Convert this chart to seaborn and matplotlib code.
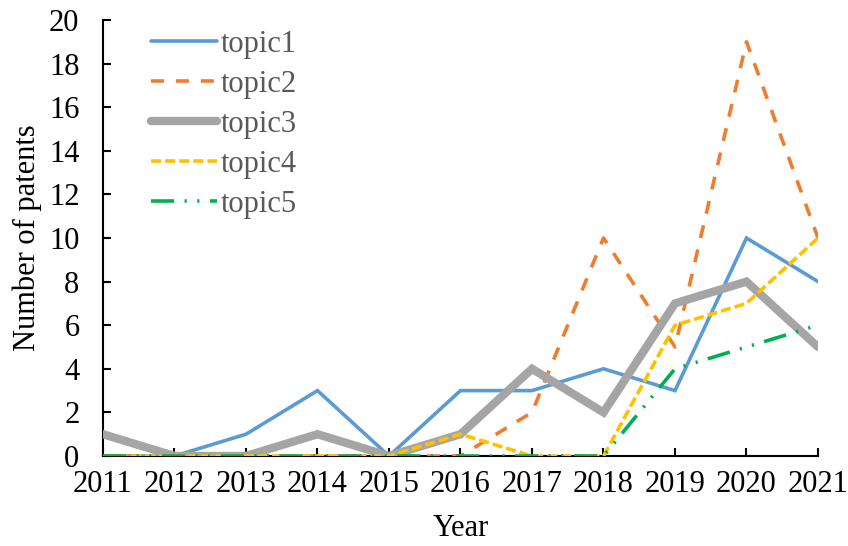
import matplotlib
matplotlib.use("Agg")
import matplotlib.pyplot as plt
import seaborn as sns
import pandas as pd

years = [2011, 2012, 2013, 2014, 2015, 2016, 2017, 2018, 2019, 2020, 2021]
topic1 = [0, 0, 1, 3, 0, 3, 3, 4, 3, 10, 8]
topic2 = [0, 0, 0, 0, 0, 0, 2, 10, 5, 19, 10]
topic3 = [1, 0, 0, 1, 0, 1, 4, 2, 7, 8, 5]
topic4 = [0, 0, 0, 0, 0, 1, 0, 0, 6, 7, 10]
topic5 = [0, 0, 0, 0, 0, 0, 0, 0, 4, 5, 6]
series_names = ["topic1", "topic2", "topic3", "topic4", "topic5"]
y_ticks = [0, 2, 4, 6, 8, 10, 12, 14, 16, 18, 20]

sns.set_theme(style="white")
plt.rcParams["font.family"] = ["Liberation Serif", "DejaVu Serif"]

fig = plt.figure(figsize=(8.48, 5.46), dpi=100)
ax = fig.add_axes([103 / 848, 1 - 456 / 546, (818 - 103) / 848, (456 - 20) / 546])

styles = [
    dict(color="#5B9BD5", lw=2.6, dashes=None),
    dict(color="#ED7D31", lw=2.6, dashes=(3.6, 3.3)),
    dict(color="#A5A5A5", lw=6.0, dashes=None),
    dict(color="#FFC000", lw=2.6, dashes=(2.8, 1.1)),
    dict(color="#00B050", lw=2.6, dashes=(6.4, 2.9, 0.6, 2.9, 0.6, 2.9)),
]
data = [topic1, topic2, topic3, topic4, topic5]

for i, (name, vals, st) in enumerate(zip(series_names, data, styles)):
    df = pd.DataFrame({"Year": years, "value": vals})
    sns.lineplot(data=df, x="Year", y="value", ax=ax, color=st["color"],
                 linewidth=st["lw"], label=name, zorder=3 + i)
    line = ax.get_lines()[-1]
    if st["dashes"] is not None:
        line.set_dashes(st["dashes"])
    line.set_solid_capstyle("round")
    line.set_solid_joinstyle("miter")

ax.set_xlim(2011, 2021)
ax.set_ylim(0, 20)
ax.set_xticks(years)
ax.set_xticklabels([str(y) for y in years])
ax.set_yticks(y_ticks)
ax.set_yticklabels([str(v) for v in y_ticks])

for s in ["top", "right"]:
    ax.spines[s].set_visible(False)
for s in ["left", "bottom"]:
    ax.spines[s].set_color("black")
    ax.spines[s].set_linewidth(1.5)

ax.tick_params(axis="both", direction="in", length=6, width=1.5, colors="black",
               labelsize=22, labelcolor="black")
ax.tick_params(axis="x", pad=10, bottom=True, left=False)
ax.tick_params(axis="y", pad=17, left=True, bottom=False)
ax.grid(False)

ax.set_xlabel("Year", fontsize=22, color="black", labelpad=11)
ax.set_ylabel("Number of patents", fontsize=22, color="black", labelpad=5)

leg = ax.legend(loc="upper left", bbox_to_anchor=(0.05, 1.005), frameon=False,
                fontsize=22, handlelength=2.15, handletextpad=0.12,
                labelspacing=0.36, borderaxespad=0)
for t in leg.get_texts():
    t.set_color("#595959")

fig.savefig("out.png", dpi=100)
